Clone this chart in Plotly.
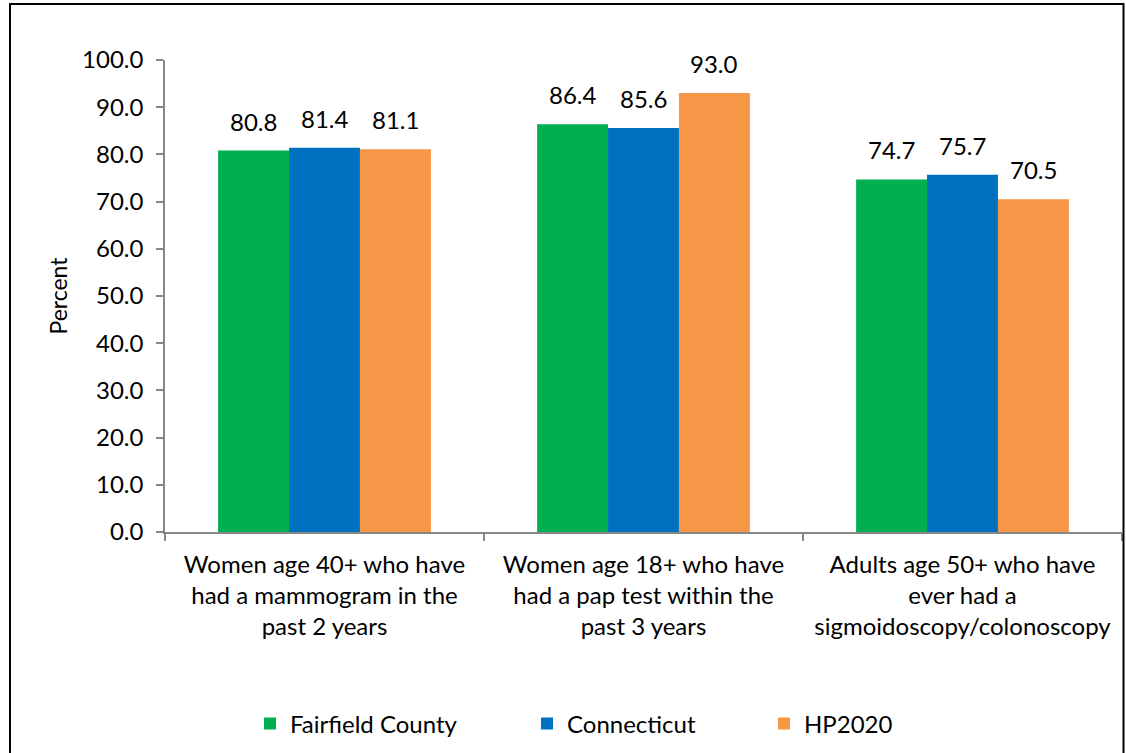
import plotly.graph_objects as go

# Screening indicators (percent of population)
categories = [
    "Women age 40+ who have<br>had a mammogram in the<br>past 2 years",
    "Women age 18+ who have<br>had a pap test within the<br>past 3 years",
    "Adults age 50+ who have<br>ever had a<br>sigmoidoscopy/colonoscopy",
]
series_names = ["Fairfield County", "Connecticut", "HP2020"]
fairfield = [80.8, 86.4, 74.7]
connecticut = [81.4, 85.6, 75.7]
hp2020 = [81.1, 93.0, 70.5]
y_ticks = [0, 10, 20, 30, 40, 50, 60, 70, 80, 90, 100]

colors = ["#00B050", "#0070C0", "#F79646"]
series_values = [fairfield, connecticut, hp2020]

FONT = "Lato"
FS = 24
W, H = 1126, 753
ML, MR, MT, MB = 165, 4, 60, 221
BARGAP = 0.333

plot_w = W - ML - MR
plot_h = H - MT - MB
cat_w = plot_w / len(categories)
bar_w = cat_w * (1 - BARGAP) / len(series_names)

fig = go.Figure()
legend_ids = ["legend", "legend2", "legend3"]
for i, (name, vals) in enumerate(zip(series_names, series_values)):
    fig.add_trace(go.Bar(
        name=name, x=categories, y=vals,
        marker=dict(color=colors[i], line=dict(width=0)),
        legend=legend_ids[i],
    ))
    for c, v in zip(categories, vals):
        fig.add_annotation(
            x=c, y=v, xref="x", yref="y", text=f"{v:.1f}",
            showarrow=False, yanchor="bottom",
            xshift=(i - 1) * bar_w, yshift=13,
            font=dict(family=FONT, size=FS, color="#000000"),
        )


def px_x(px):
    return (px - ML) / plot_w


def px_y(py):
    return (H - MB - py) / plot_h


# outer chart frame
fig.add_shape(type="rect", xref="paper", yref="paper",
              x0=px_x(10), x1=px_x(1123.5), y0=px_y(800), y1=px_y(4),
              line=dict(color="#000000", width=2), fillcolor="rgba(0,0,0,0)")

axis_gray = "#878787"
legend_left = [250, 527, 764]
layout_legends = {}
for lid, lx in zip(legend_ids, legend_left):
    layout_legends[lid] = dict(
        x=px_x(lx), xanchor="left", y=px_y(724), yanchor="middle",
        orientation="h", font=dict(family=FONT, size=FS, color="#000000"),
        bgcolor="rgba(0,0,0,0)",
    )

fig.update_layout(
    width=W, height=H,
    margin=dict(l=ML, r=MR, t=MT, b=MB),
    paper_bgcolor="white", plot_bgcolor="white",
    barmode="group", bargap=BARGAP, bargroupgap=0,
    font=dict(family=FONT, size=FS, color="#000000"),
    showlegend=True,
    **layout_legends,
    xaxis=dict(
        showline=True, linecolor=axis_gray, linewidth=1.5,
        ticks="outside", ticklen=7, tickcolor=axis_gray, tickwidth=1.5,
        tickson="boundaries", showgrid=False, ticklabelstandoff=10,
        tickfont=dict(family=FONT, size=FS, color="#000000"),
    ),
    yaxis=dict(
        range=[0, 100], tickvals=y_ticks, tickformat=".1f",
        showline=True, linecolor=axis_gray, linewidth=1.5,
        ticks="outside", ticklen=7, tickcolor=axis_gray, tickwidth=1.5,
        showgrid=False, zeroline=False, ticklabelstandoff=8,
        tickfont=dict(family=FONT, size=FS, color="#000000"),
        title=dict(text="Percent", font=dict(family=FONT, size=FS - 1, color="#000000"), standoff=8),
    ),
)

fig.write_html("out.html")
